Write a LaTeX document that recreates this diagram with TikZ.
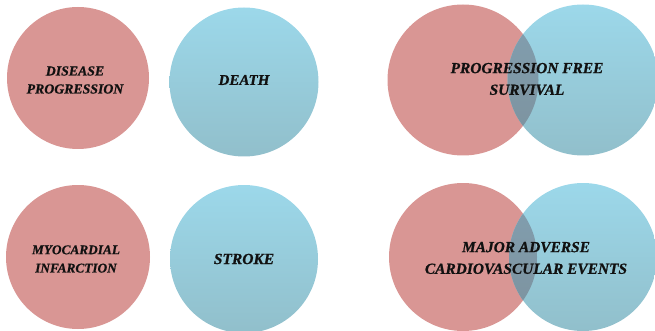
\documentclass[tikz,border=0pt]{standalone}
\usepackage{fontspec}
\setmainfont{Liberation Serif}[BoldItalicFeatures={FakeBold=0.8}]
\definecolor{rosefill}{HTML}{D99694}
\definecolor{bluetop}{HTML}{9CD8EA}
\definecolor{bluebot}{HTML}{91BFCB}
\definecolor{ovtop}{HTML}{82A0B1}
\definecolor{ovbot}{HTML}{7C919D}
\definecolor{txt}{HTML}{111111}
\tikzset{
  redc/.style={circle, fill=rosefill, minimum size=#1, inner sep=0pt},
  bluec/.style={circle, top color=bluetop, bottom color=bluebot, minimum size=#1, inner sep=0pt},
  lbl/.style 2 args={font=\bfseries\itshape\fontsize{#1}{#2}\selectfont, align=center, text=txt, inner sep=0pt},
}
\begin{document}
\begin{tikzpicture}[x=1pt,y=-1pt]
\useasboundingbox (0,0) rectangle (655,331);
\clip (0,0) rectangle (655,331);
% coordinates
\coordinate (c1) at (78,78);
\coordinate (c2) at (244,82);
\coordinate (c3) at (463,80);
\coordinate (c4) at (583,80);
\coordinate (c5) at (78,257);
\coordinate (c6) at (244,259);
\coordinate (c7) at (463,257);
\coordinate (c8) at (583,257);
% top row
\node[redc=142pt] (dp) at (c1) {};
\node[bluec=149pt] (death) at (c2) {};
\node[redc=151pt] (pfsr) at (c3) {};
\node[bluec=151pt] (pfsb) at (c4) {};
\begin{scope}
  \clip (c3) circle[radius=75.5pt];
  \path[top color=ovtop, bottom color=ovbot] (c4) circle[radius=75.5pt];
\end{scope}
% bottom row
\node[redc=144pt] (mi) at (c5) {};
\node[bluec=148pt] (stroke) at (c6) {};
\node[redc=148pt] (macer) at (c7) {};
\node[bluec=148pt] (maceb) at (c8) {};
\begin{scope}
  \clip (c7) circle[radius=74pt];
  \path[top color=ovtop, bottom color=ovbot] (c8) circle[radius=74pt];
\end{scope}
% labels
\node[lbl={13.8pt}{18pt}] (tdp) at (75,80) {DISEASE\\PROGRESSION};
\node[lbl={15pt}{18pt}] (tdeath) at (244,80) {DEATH};
\node[lbl={15.4pt}{21.7pt}] (tpfs) at (527,79) {PROGRESSION FREE\\SURVIVAL};
\node[lbl={13.3pt}{18.3pt}] (tmi) at (76,259) {MYOCARDIAL\\INFARCTION};
\node[lbl={15.5pt}{18pt}] (tstroke) at (244,259) {STROKE};
\node[lbl={15.4pt}{21.7pt}] (tmace) at (526,258) {MAJOR ADVERSE\\CARDIOVASCULAR EVENTS};
\end{tikzpicture}
\end{document}
